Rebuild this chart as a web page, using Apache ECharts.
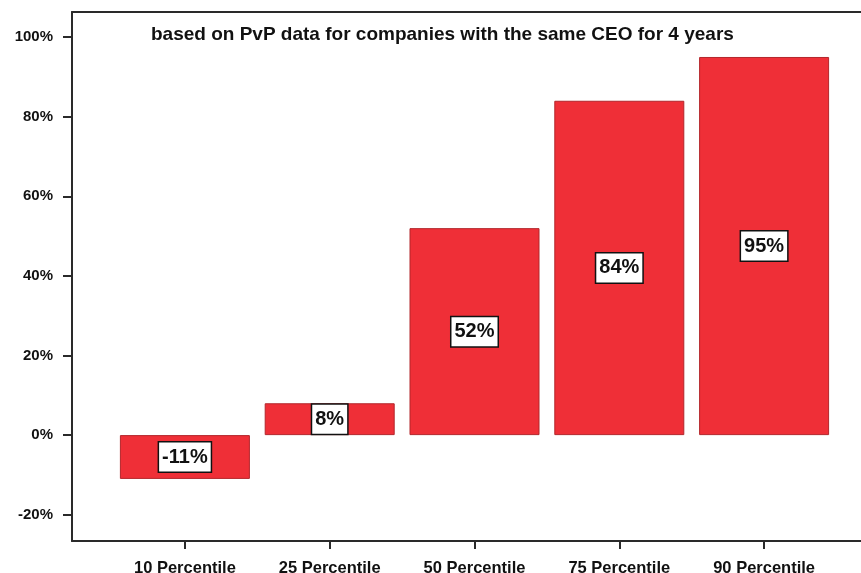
<!DOCTYPE html>
<html>
<head>
<meta charset="UTF-8">
<style>
	html, body { margin: 0; padding: 0; background: #fff; }
	#main { width: 861px; height: 573px; }
</style>
</head>
<body>
	<div id="main"></div>
	<script src="https://cdn.jsdelivr.net/npm/echarts@6/dist/echarts.min.js"></script>
<script>
	var categories = ['10 Percentile', '25 Percentile', '50 Percentile', '75 Percentile', '90 Percentile'];
	var values = [-11, 8, 52, 84, 95];
	var yTicks = [-20, 0, 20, 40, 60, 80, 100];
	var yMin = -26.6, yMax = 106.3;

	var font = "'Liberation Sans', Arial, sans-serif";
	var lineColor = '#2a2a2a';

	var myChart = echarts.init(document.getElementById('main'));
	myChart.setOption({
		backgroundColor : '#fff',
		animation : false,
		title : {
			text : 'based on PvP data for companies with the same CEO for 4 years',
			left : 146,
			top : 20,
			textStyle : {
				fontFamily : font,
				fontSize : 19,
				fontWeight : 'bold',
				color : '#111'
			}
		},
		grid : [
			{ left : 72, right : 0, top : 12, bottom : 32, outerBoundsMode : 'none' },
			{ left : 112.5, right : 24.5, top : 12, bottom : 32, outerBoundsMode : 'none' }
		],
		xAxis : [
			{
				gridIndex : 0, type : 'value', min : 0, max : 1, position : 'bottom',
				axisLine : { show : true, onZero : false, lineStyle : { color : lineColor, width : 2 } },
				axisTick : { show : false }, axisLabel : { show : false }, splitLine : { show : false }
			},
			{
				gridIndex : 0, type : 'value', min : 0, max : 1, position : 'top',
				axisLine : { show : true, onZero : false, lineStyle : { color : lineColor, width : 2 } },
				axisTick : { show : false }, axisLabel : { show : false }, splitLine : { show : false }
			},
			{
				gridIndex : 1, type : 'category', data : categories, position : 'bottom',
				axisLine : { show : false, onZero : false },
				axisTick : { show : true, alignWithLabel : true, length : 8, lineStyle : { color : lineColor, width : 2 } },
				axisLabel : {
					margin : 19,
					fontFamily : font,
					fontSize : 16.5,
					fontWeight : 'bold',
					color : '#111'
				}
			}
		],
		yAxis : [
			{
				gridIndex : 0, type : 'value', min : yMin, max : yMax,
				axisLine : { show : true, onZero : false, lineStyle : { color : lineColor, width : 2 } },
				axisTick : { show : true, customValues : yTicks, length : 9, lineStyle : { color : lineColor, width : 2 } },
				axisLabel : {
					customValues : yTicks,
					formatter : '{value}%',
					margin : 19,
					fontFamily : font,
					fontSize : 15,
					fontWeight : 'bold',
					color : '#111'
				},
				splitLine : { show : false }
			},
			{
				gridIndex : 1, type : 'value', min : yMin, max : yMax, show : false
			}
		],
		series : [ {
			type : 'bar',
			xAxisIndex : 2,
			yAxisIndex : 1,
			data : values,
			barWidth : 130,
			itemStyle : {
				color : '#EF2F37',
				borderColor : '#B3262B',
				borderWidth : 1
			},
			label : {
				show : true,
				position : 'inside',
				formatter : '{c}%',
				fontFamily : font,
				fontSize : 20,
				fontWeight : 'bold',
				color : '#111',
				backgroundColor : '#fff',
				borderColor : '#111',
				borderWidth : 1.5,
				padding : [4, 3, 3, 3],
				lineHeight : 22
			}
		} ]
	});
</script>
</body>
</html>
